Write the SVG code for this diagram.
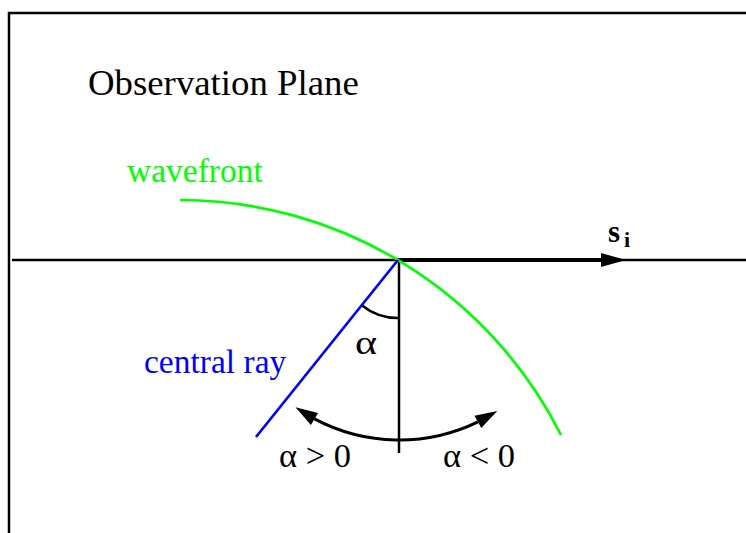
<svg xmlns="http://www.w3.org/2000/svg" width="746" height="533" viewBox="0 0 746 533">
<style>
text{font-family:"Liberation Serif","Times New Roman",serif;}
.lbl{font-size:33.5px;fill:#000;}
.ln{fill:none;stroke:#000;stroke-width:2.5;}
.ah{fill:#000;stroke:none;}
</style>
<rect x="0" y="0" width="746" height="533" fill="#fff"/>
<g id="frame">
<path d="M9,533 V13 H746" fill="none" stroke="#000" stroke-width="2.5"/>
</g>
<g id="connectors">
<line x1="12" y1="260" x2="746" y2="260" stroke="#000" stroke-width="2.3"/>
<line x1="398" y1="260" x2="605" y2="260" stroke="#000" stroke-width="4"/>
<polygon class="ah" points="626,260 601,253 601,267"/>
<line x1="399" y1="260" x2="399" y2="453" class="ln"/>
<path d="M361.7,305.2 A58,58 0 0 0 398,318" class="ln"/>
<path d="M314.5,418.9 A180,180 0 0 0 477.9,421.8" fill="none" stroke="#000" stroke-width="3"/>
<polygon class="ah" points="295.5,407.3 318.1,412.9 310.9,424.9"/>
<polygon class="ah" points="497.3,410.9 481.3,427.9 474.5,415.7"/>
</g>
<g id="wavefront">
<path d="M180,200 A427,427 0 0 1 561,435" fill="none" stroke="#00ff00" stroke-width="2.7"/>
<text x="127" y="182" class="lbl" style="fill:#00ff00">wavefront</text>
</g>
<g id="central-ray">
<line x1="398" y1="260" x2="256" y2="437" stroke="#0000ff" stroke-width="2.7"/>
<text x="144" y="373" class="lbl" style="fill:#0000ff">central ray</text>
</g>
<g id="labels">
<text x="88" y="95" style="font-size:36.8px">Observation Plane</text>
<text x="355" y="354" class="lbl" textLength="22" lengthAdjust="spacingAndGlyphs">α</text>
<text x="279" y="467" class="lbl" textLength="72" lengthAdjust="spacingAndGlyphs">α &gt; 0</text>
<text x="443" y="467" class="lbl" textLength="72" lengthAdjust="spacingAndGlyphs">α &lt; 0</text>
<text x="608" y="242" style="font-size:31px;font-weight:bold">s</text>
<text x="624" y="247" style="font-size:22px;font-weight:bold">i</text>
</g>
</svg>
